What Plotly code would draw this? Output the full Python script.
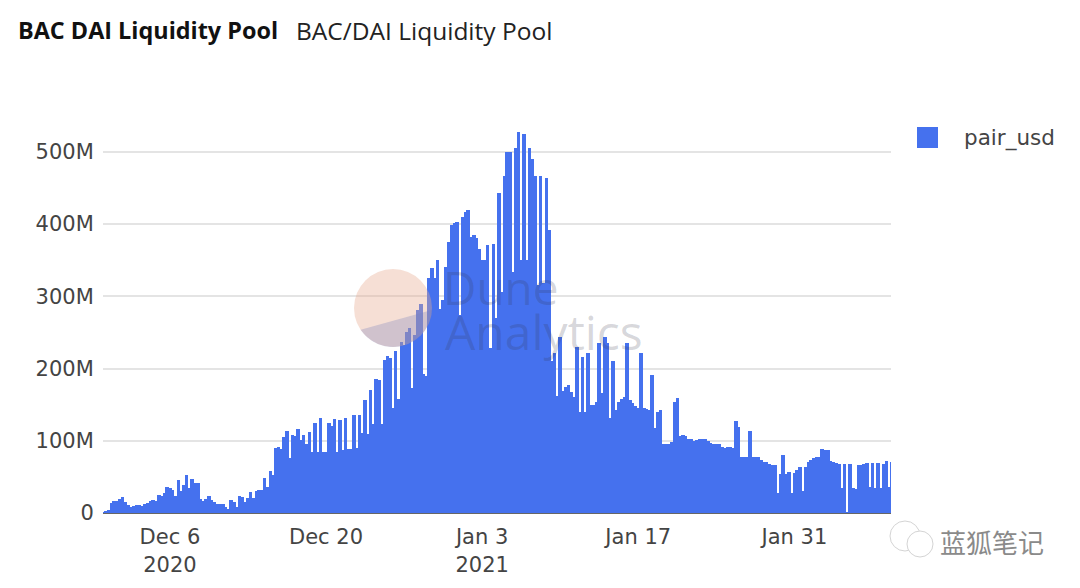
import numpy as np
import pandas as pd
import plotly.graph_objects as go

# pool size in millions of usd, one bar every 6 hours from Nov 30
pool_nov_dec = [0.5, 1.5, 4.6, 14, 16, 16, 19, 22, 15, 11.5, 8, 10, 10.5, 10.5, 10, 12, 14, 16.5, 17.5, 16,
                25, 24, 28, 35.5, 34, 32, 23, 45, 31, 39, 52, 34, 47, 42, 41, 19, 16, 19, 23, 17.5,
                15, 13, 12.5, 12, 9, 5.5, 17.5, 15, 9, 23, 22, 15, 21, 29, 21, 31, 32, 32, 48, 36,
                58, 53, 90, 92, 88, 105, 113, 76, 108, 107, 116, 101, 108, 95, 112, 84, 125, 85, 132, 85,
                85, 125, 120, 130, 85, 129, 87, 132, 89, 89, 135, 90, 135, 111, 157, 110, 170, 123, 186, 184,
                123, 212, 217, 214, 145, 224, 158, 237, 233, 250, 256, 173, 247, 281, 290, 192, 190]
pool_peak = [325, 339, 325, 350, 283, 295, 340, 375, 399, 401, 403, 274, 410, 416, 420, 382, 385, 381, 366, 350,
             350, 371, 228, 373, 270, 443, 306, 467, 500, 500, 334, 505, 528, 350, 525, 350, 505, 490, 467, 315,
             466, 318, 464, 392]
pool_fall = [210, 221, 162, 244, 169, 175, 177, 168, 161, 230, 140, 216, 140, 221, 150, 150, 153, 235, 166, 244,
             235, 132, 211, 143, 153, 158, 160, 236, 156, 152, 148, 146, 222, 146, 144, 143, 191, 117, 140, 143,
             96, 96, 96, 98, 154, 159, 106, 108, 106, 103, 102, 99, 101, 102, 102, 102, 100, 97, 96, 96]
pool_tail = [95, 91, 90, 92, 92, 90, 128, 119, 77, 77, 77, 114, 78, 78, 78, 74, 71, 70, 68, 67,
             66, 27, 54, 80, 54, 57, 27, 56, 59, 63, 31, 64, 71, 74, 76, 77, 78, 88, 87, 87,
             72, 70, 69, 68, 34, 68, 0.5, 68, 34, 33, 67, 67, 68, 69, 36, 69, 35, 69, 35, 68,
             72, 36, 70]
pair_usd = [v * 1e6 for v in pool_nov_dec + pool_peak + pool_fall + pool_tail]
day = pd.date_range("2020-11-30 00:00", periods=len(pair_usd), freq="6h")

x_tick_dates = ["2020-12-06", "2020-12-20", "2021-01-03", "2021-01-17", "2021-01-31"]
x_tick_labels = ["Dec 6<br>2020", "Dec 20", "Jan 3<br>2021", "Jan 17", "Jan 31"]
y_ticks = [0, 100e6, 200e6, 300e6, 400e6, 500e6]
y_tick_labels = ["0", "100M", "200M", "300M", "400M", "500M"]

BLUE = "#4571EE"
FONT = "Open Sans"
TICK_FONT = "DejaVu Sans"
# plot box in picture pixels, the page body adds 8px on each side
L, R, T, B = 103, 891, 120, 513
PAGE = 8
BAR_MS = 27000000  # a bit over 6h so the white gaps stay narrow


def px(x):
    return (x - L) / (R - L)


def py(y):
    return (B - y) / (B - T)


def note(x, y, text, size, color="#333333", family=FONT):
    return dict(xref="paper", yref="paper", x=px(x), y=py(y), text=text, showarrow=False, xanchor="left",
                yanchor="middle", font=dict(family=family, size=size, color=color))


def circle(x, y, r, **kw):
    return dict(type="circle", xref="paper", yref="paper", x0=px(x - r), x1=px(x + r),
                y0=py(y + r), y1=py(y - r), **kw)


# lower slice of the dune logo
ang = np.radians(np.linspace(3, 146, 40))
slice_pts = [(393 + 39 * np.cos(a), 308 + 39 * np.sin(a)) for a in ang]
slice_path = "M " + " L ".join(f"{px(a):.4f},{py(b):.4f}" for a, b in slice_pts) + " Z"

fig = go.Figure(go.Bar(x=day, y=pair_usd, name="pair_usd", width=BAR_MS, marker=dict(color=BLUE, line=dict(width=0))))

shapes = [
    circle(393, 308, 39, fillcolor="rgba(232,170,145,0.38)", line=dict(width=0)),
    dict(type="path", xref="paper", yref="paper", path=slice_path, fillcolor="rgba(120,130,190,0.30)", line=dict(width=0)),
    dict(type="rect", xref="paper", yref="paper", x0=px(917), x1=px(938), y0=py(148), y1=py(127),
         fillcolor=BLUE, line=dict(width=0)),
    circle(905, 536, 15, fillcolor="white", line=dict(color="#d4d4d4", width=1)),
    circle(920, 544, 13, fillcolor="white", line=dict(color="#d4d4d4", width=1)),
]

annotations = [
    note(16, 30, "<b>BAC DAI Liquidity Pool</b>", 23.4, "#111111"),
    note(294, 30, "BAC/DAI Liquidity Pool", 24.5, "#222222"),
    note(962, 138, "pair_usd", 21.5, "#444444", TICK_FONT),
    note(441, 287, "Dune", 46, "rgba(50,50,70,0.2)"),
    note(443, 331, "Analytics", 48, "rgba(50,50,70,0.2)"),
    note(938, 541, "蓝狐笔记", 26, "#8a8a8a", "Noto Sans CJK SC"),
]

fig.update_layout(
    width=1080 - PAGE, height=588 - PAGE,
    margin=dict(l=L - PAGE, r=1080 - R, t=T - PAGE, b=588 - B, pad=0),
    paper_bgcolor="white", plot_bgcolor="white",
    bargap=0, showlegend=False,
    font=dict(family=TICK_FONT, size=21, color="#444444"),
    shapes=shapes, annotations=annotations,
)
fig.update_xaxes(type="date", range=["2020-11-30 00:00", "2021-02-08 16:00"], tickvals=x_tick_dates,
                 ticktext=x_tick_labels, showgrid=False, showline=True, linecolor="#666666", linewidth=1,
                 ticks="outside", ticklen=5, tickcolor="rgba(0,0,0,0)", tickfont=dict(size=21, color="#444444"))
fig.update_yaxes(range=[0, 544e6], tickvals=y_ticks, ticktext=y_tick_labels, showgrid=True, gridcolor="#e4e4e4",
                 gridwidth=1.5, zeroline=False, ticks="outside", ticklen=4, tickcolor="rgba(0,0,0,0)",
                 tickfont=dict(size=21, color="#444444"))

fig.write_html("out.html")
